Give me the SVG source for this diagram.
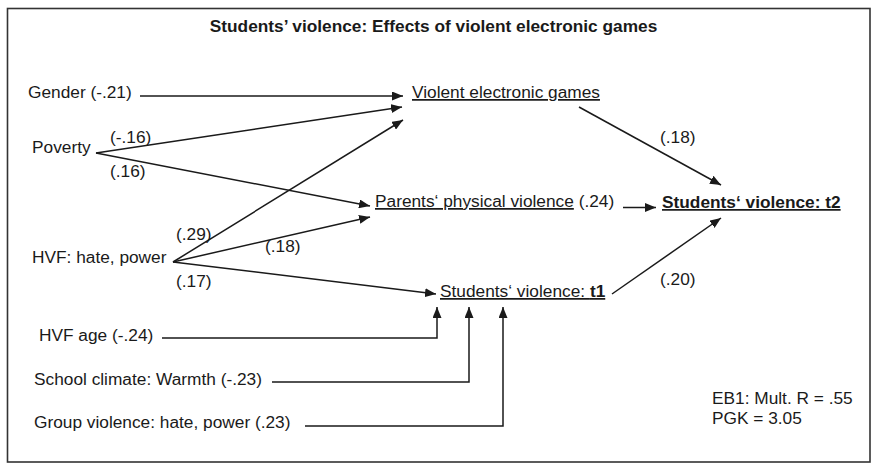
<svg xmlns="http://www.w3.org/2000/svg" width="874" height="464" viewBox="0 0 874 464">
<defs>
<style>
text{font-family:"Liberation Sans",Arial,sans-serif;font-size:17.3px;fill:#1a1a1a}
.b{font-weight:bold}
.u{text-decoration:underline}
.c line,.c polyline{stroke:#1a1a1a;stroke-width:1.5;fill:none;marker-end:url(#ah)}
</style>
<marker id="ah" markerUnits="userSpaceOnUse" markerWidth="11" markerHeight="9" refX="11" refY="4.5" orient="auto">
<path d="M0,0 L11,4.5 L0,9 Z" fill="#1a1a1a"/>
</marker>
</defs>
<rect x="0" y="0" width="874" height="464" fill="#fff"/>
<rect x="7.5" y="8.5" width="862.5" height="453.5" fill="none" stroke="#333" stroke-width="1.6"/>
<text id="title" class="b" x="433.5" y="32" text-anchor="middle">Students’ violence: Effects of violent electronic games</text>

<g class="c" id="connectors">
<line x1="140" y1="96" x2="403" y2="96"/>
<line x1="96" y1="153" x2="402" y2="107"/>
<line x1="96" y1="153" x2="370" y2="206"/>
<line x1="173" y1="262" x2="403" y2="120"/>
<line x1="173" y1="262" x2="370" y2="217"/>
<line x1="173" y1="262" x2="436" y2="294"/>
<polyline points="162,338 437,338 437,307"/>
<polyline points="272,382 469,382 469,307"/>
<polyline points="305,426 503,426 503,307"/>
<line x1="579" y1="107" x2="721" y2="185"/>
<line x1="623" y1="207.5" x2="656" y2="207.5"/>
<line x1="612" y1="294" x2="721" y2="218"/>
</g>

<g id="gender"><text x="28" y="98">Gender (-.21)</text></g>
<g id="poverty"><text x="32" y="153">Poverty</text></g>
<g id="hvf"><text x="32" y="263">HVF: hate, power</text></g>
<g id="hvfage"><text x="39" y="341">HVF age (-.24)</text></g>
<g id="school"><text x="34" y="385">School climate: Warmth (-.23)</text></g>
<g id="group"><text x="34" y="428">Group violence: hate, power (.23)</text></g>
<g id="games"><text class="u" x="412" y="98">Violent electronic games</text></g>
<g id="parents"><text x="375" y="207"><tspan class="u">Parents‘ physical violence</tspan> (.24)</text></g>
<g id="t2"><text class="b u" x="662" y="208">Students‘ violence: t2</text></g>
<g id="t1"><text class="u" x="440" y="297">Students‘ violence: <tspan class="b">t1</tspan></text></g>

<g id="labels">
<text x="110" y="143">(-.16)</text>
<text x="110" y="177">(.16)</text>
<text x="176" y="240">(.29)</text>
<text x="265" y="252">(.18)</text>
<text x="176" y="287">(.17)</text>
<text x="660" y="143">(.18)</text>
<text x="660" y="285">(.20)</text>
</g>
<g id="stats">
<text x="712" y="404">EB1: Mult. R = .55</text>
<text x="712" y="423.5">PGK = 3.05</text>
</g>
</svg>
